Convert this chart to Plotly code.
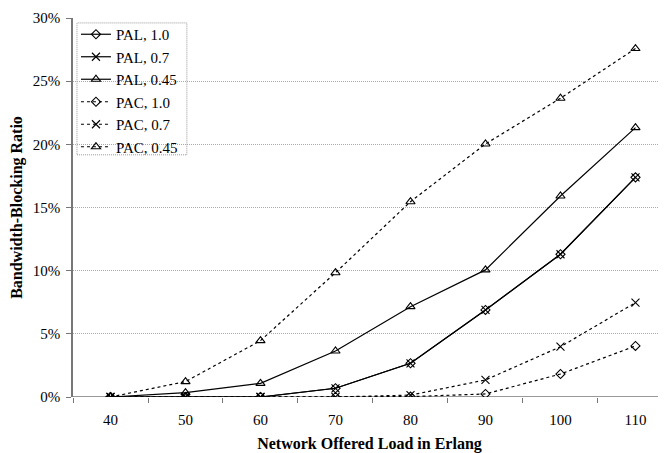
import plotly.graph_objects as go

loads = [40, 50, 60, 70, 80, 90, 100, 110]
pal_10 = [0.0, 0.0, 0.0, 0.69, 2.67, 6.89, 11.30, 17.39]
pal_07 = [0.0, 0.0, 0.0, 0.69, 2.67, 6.89, 11.30, 17.39]
pal_045 = [0.0, 0.34, 1.08, 3.64, 7.15, 10.06, 15.91, 21.32]
pac_10 = [0.0, 0.0, 0.0, 0.0, 0.03, 0.24, 1.82, 4.04]
pac_07 = [0.0, 0.0, 0.0, 0.0, 0.15, 1.35, 3.98, 7.47]
pac_045 = [0.0, 1.22, 4.46, 9.84, 15.46, 20.03, 23.65, 27.58]
y_ticks = [0, 5, 10, 15, 20, 25, 30]

series = [
    ("PAL, 1.0", pal_10, "solid", "diamond-open", 7),
    ("PAL, 0.7", pal_07, "solid", "x-thin-open", 8),
    ("PAL, 0.45", pal_045, "solid", "triangle-up-open", 8),
    ("PAC, 1.0", pac_10, "dot", "diamond-open", 7),
    ("PAC, 0.7", pac_07, "dot", "x-thin-open", 8),
    ("PAC, 0.45", pac_045, "dot", "triangle-up-open", 8),
]

fig = go.Figure()
for name, vals, dash, sym, sz in series:
    fig.add_trace(go.Scatter(
        x=loads, y=vals, name=name, mode="lines+markers",
        line=dict(color="black", width=1.2, dash=dash),
        marker=dict(symbol=sym, size=sz,
                    color="black", line=dict(color="black", width=1.1)),
    ))

font = "Liberation Serif"
# page body has an 8px margin; figure sized/offset to compensate
fig.update_layout(
    width=658, height=445,
    margin=dict(l=65, r=0, t=10, b=56, autoexpand=False),
    paper_bgcolor="white", plot_bgcolor="white",
    font=dict(family=font, size=15, color="black"),
    showlegend=True,
    legend=dict(x=0.005, y=1.0, xanchor="left", yanchor="top",
                bgcolor="rgba(255,255,255,0)", borderwidth=0,
                font=dict(family=font, size=15), tracegroupgap=0),
    xaxis=dict(
        range=[35, 114.07], tickvals=loads, ticktext=[str(v) for v in loads],
        ticks="", showgrid=False, zeroline=False, automargin=True,
        showline=False, ticklabelstandoff=12,
        minor=dict(tickvals=[35, 45, 55, 65, 75, 85, 95, 105, 115],
                   ticks="outside", ticklen=5, tickcolor="#777", tickwidth=1,
                   showgrid=False),
        title=dict(text="<b>Network Offered Load in Erlang</b>",
                   font=dict(family=font, size=16), standoff=10),
        tickfont=dict(family=font, size=15),
    ),
    yaxis=dict(
        range=[0, 30], tickvals=y_ticks, ticktext=[f"{v}%" for v in y_ticks],
        ticks="outside", ticklen=5, tickcolor="#777", automargin=True,
        ticklabelstandoff=3,
        showgrid=True, gridcolor="#aaa", griddash="1px,1px", gridwidth=1,
        zeroline=False, showline=True, linecolor="#777", linewidth=1.5,
        title=dict(text="<b>Bandwidth-Blocking Ratio</b>",
                   font=dict(family=font, size=16), standoff=6),
        tickfont=dict(family=font, size=15),
    ),
    shapes=[
        dict(type="line", xref="paper", yref="y", x0=0, x1=1, y0=0, y1=0,
             line=dict(color="#777", width=1.5), layer="below"),
        dict(type="rect", xref="paper", yref="paper",
             x0=0.0067, x1=0.192, y0=0.639, y1=0.987,
             fillcolor="white",
             line=dict(color="#999", width=1, dash="1px,1px"), layer="below"),
    ],
)

fig.write_html("out.html")
